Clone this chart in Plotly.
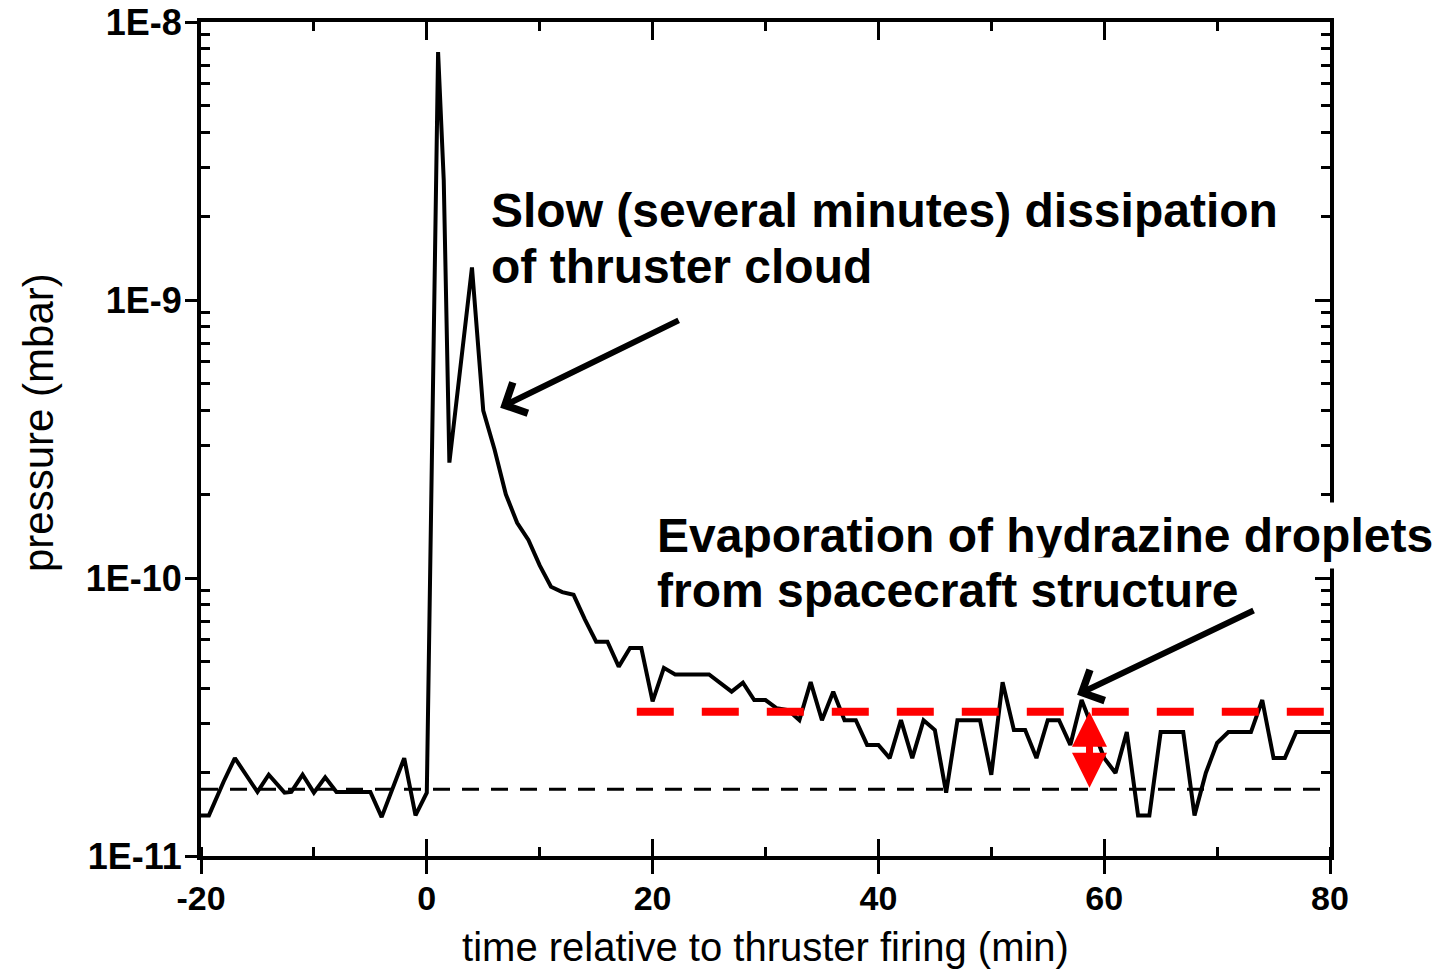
import plotly.graph_objects as go
import numpy as np

# ---- data ----
time_min = [-20, -19.3, -18, -17, -15, -14, -12.6, -12, -11, -10, -9, -8, -5, -4, -2, -1, 0,
            0.4, 1, 1.5, 2, 4, 5, 6, 7, 8, 9, 10, 11, 12, 13, 14, 15, 16, 17, 18, 19, 20,
            21, 22, 25, 27, 28, 29, 30, 31, 32, 33, 34, 35, 36, 37, 38, 39, 40, 41, 42, 43,
            44, 45, 46, 47, 49, 50, 51, 52, 53, 54, 55, 56, 57, 58, 59, 60, 61, 62, 63, 64,
            65, 67, 68, 69, 70, 71, 73, 74, 75, 76, 77, 80]
pressure_mbar = [1.40e-11, 1.40e-11, 1.85e-11, 2.25e-11, 1.70e-11, 1.96e-11, 1.69e-11, 1.70e-11,
                 1.96e-11, 1.69e-11, 1.92e-11, 1.70e-11, 1.70e-11, 1.38e-11, 2.25e-11, 1.40e-11,
                 1.69e-11,
                 2.45e-10, 7.8e-9, 2.7e-9, 2.6e-10, 1.31e-9, 4.0e-10, 2.9e-10, 2.0e-10, 1.58e-10,
                 1.37e-10, 1.11e-10, 9.3e-11, 8.9e-11, 8.7e-11, 7.1e-11, 5.9e-11, 5.9e-11, 4.8e-11,
                 5.6e-11, 5.6e-11, 3.6e-11,
                 4.75e-11, 4.5e-11, 4.5e-11, 3.9e-11, 4.2e-11, 3.64e-11, 3.64e-11, 3.4e-11, 3.35e-11,
                 3.08e-11, 4.22e-11, 3.08e-11, 3.9e-11, 3.08e-11, 3.08e-11, 2.51e-11, 2.51e-11,
                 2.25e-11, 3.08e-11, 2.25e-11,
                 3.08e-11, 2.84e-11, 1.69e-11, 3.08e-11, 3.08e-11, 1.96e-11, 4.22e-11, 2.84e-11,
                 2.84e-11, 2.25e-11, 3.08e-11, 3.08e-11, 2.51e-11, 3.64e-11, 2.84e-11, 2.25e-11,
                 1.99e-11, 2.79e-11, 1.40e-11, 1.40e-11,
                 2.79e-11, 2.79e-11, 1.40e-11, 1.99e-11, 2.55e-11, 2.79e-11, 2.79e-11, 3.64e-11,
                 2.25e-11, 2.25e-11, 2.79e-11, 2.79e-11]

baseline_x = [-20, 80]
baseline_level = 1.74e-11
evap_x = [18.6, 80]
evap_level = 3.30e-11
delta_time = 58.7

x_ticks = [-20, 0, 20, 40, 60, 80]
x_ticklabels = ["-20", "0", "20", "40", "60", "80"]
y_ticks = [1e-11, 1e-10, 1e-9, 1e-8]
y_ticklabels = ["1E-11", "1E-10", "1E-9", "1E-8"]
y_minor = [m * 10.0 ** e for e in (-11, -10, -9) for m in range(2, 10)]

# ---- layout helpers ----
W, H = 1454, 973
L, R, T, B = 201, 124, 22, 117
PW, PH = W - L - R, H - T - B


def px(xp):
    return (xp - L) / PW


def py(yp):
    return (H - B - yp) / PH


FONT = "Liberation Sans, Arial, sans-serif"

fig = go.Figure()

fig.add_trace(go.Scatter(x=baseline_x, y=[baseline_level] * 2, mode="lines",
                         line=dict(color="black", width=3, dash="17px,12px"),
                         showlegend=False, hoverinfo="skip"))
fig.add_trace(go.Scatter(x=time_min, y=pressure_mbar, mode="lines",
                         line=dict(color="black", width=4), showlegend=False))
fig.add_trace(go.Scatter(x=evap_x, y=[evap_level] * 2, mode="lines",
                         line=dict(color="#ff0000", width=8, dash="37px,28px"),
                         showlegend=False, hoverinfo="skip"))
# dummy traces to instantiate overlay axes
for xa, ya in (("x2", "y"), ("x3", "y"), ("x", "y2")):
    fig.add_trace(go.Scatter(x=[None], y=[None], xaxis=xa, yaxis=ya, showlegend=False,
                             hoverinfo="skip"))

xtickfont = dict(family=FONT, size=34, color="black", weight="bold")
ytickfont = dict(family=FONT, size=36, color="black", weight="bold")
common_x = dict(range=[-20, 80], showgrid=False, zeroline=False, linecolor="black",
                automargin=False)
common_y = dict(type="log", range=[-11, -8], showgrid=False, zeroline=False, linecolor="black",
                automargin=False)

fig.update_layout(
    width=W, height=H,
    margin=dict(l=L, r=R, t=T, b=B, autoexpand=False),
    paper_bgcolor="white", plot_bgcolor="white",
    xaxis=dict(**common_x, tickmode="array", tickvals=x_ticks, ticktext=x_ticklabels,
               ticks="outside", ticklen=14, ticklabelstandoff=-5,
               tickwidth=3, tickcolor="black", showline=True, linewidth=4,
               tickfont=xtickfont,
               minor=dict(ticks="inside", ticklen=9, tickwidth=3, tickcolor="black",
                          dtick=10, tick0=0, showgrid=False),
               title=dict(text="time relative to thruster firing (min)",
                          font=dict(family=FONT, size=40, color="black"), standoff=18)),
    xaxis2=dict(**common_x, overlaying="x", side="top", anchor="y", tickmode="array",
                tickvals=x_ticks, ticks="inside", ticklen=18, tickwidth=3, tickcolor="black",
                showline=True, linewidth=4, showticklabels=False,
                minor=dict(ticks="inside", ticklen=9, tickwidth=3, tickcolor="black",
                           dtick=10, tick0=0, showgrid=False)),
    xaxis3=dict(**common_x, overlaying="x", side="bottom", anchor="y", tickmode="array",
                tickvals=x_ticks, ticks="inside", ticklen=17, tickwidth=3, tickcolor="black",
                showline=False, showticklabels=False),
    yaxis=dict(**common_y, tickmode="array", tickvals=y_ticks, ticktext=y_ticklabels,
               ticks="outside", ticklen=12, ticklabelstandoff=-4, tickwidth=3,
               tickcolor="black", showline=True,
               linewidth=4, tickfont=ytickfont,
               minor=dict(ticks="inside", ticklen=9, tickwidth=3, tickcolor="black",
                          tickmode="array", tickvals=y_minor, showgrid=False)),
    yaxis2=dict(**common_y, overlaying="y", side="right", anchor="x", tickmode="array",
                tickvals=y_ticks, ticks="inside", ticklen=15, tickwidth=3, tickcolor="black",
                showline=True, linewidth=4, showticklabels=False,
                minor=dict(ticks="inside", ticklen=9, tickwidth=3, tickcolor="black",
                           tickmode="array", tickvals=y_minor, showgrid=False)),
)

# y axis title placed as rotated text
fig.add_annotation(text="pressure (mbar)", xref="paper", yref="paper", x=px(38), y=py(423),
                   xanchor="center", yanchor="middle", textangle=-90, showarrow=False,
                   font=dict(family=FONT, size=42, color="black"))

afont = dict(family=FONT, size=48, color="black", weight="bold")
text_lines = [
    ("Slow (several minutes) dissipation", 484, 210, None),
    ("of thruster cloud", 484, 266, None),
    ("Evaporation of hydrazine droplets", 650, 535, "white"),
    ("from spacecraft structure", 650, 590, "white"),
]
for txt, xp, yp, bg in text_lines:
    fig.add_annotation(text=txt, xref="paper", yref="paper", x=px(xp), y=py(yp),
                       xanchor="left", yanchor="middle", showarrow=False, font=afont,
                       bgcolor=bg if bg else "rgba(0,0,0,0)", borderpad=6)

# black pointer arrows
fig.add_annotation(x=6.5, y=np.log10(4.1e-10), xref="x", yref="y", ax=180, ay=-88,
                   text="", showarrow=True, arrowhead=4, arrowsize=1.1, arrowwidth=6,
                   arrowcolor="black")
fig.add_annotation(x=57.6, y=np.log10(3.8e-11), xref="x", yref="y", ax=178, ay=-85,
                   text="", showarrow=True, arrowhead=4, arrowsize=1.1, arrowwidth=6,
                   arrowcolor="black")
# red double arrow
fig.add_annotation(x=delta_time, y=np.log10(evap_level), xref="x", yref="y",
                   ax=delta_time, ay=np.log10(baseline_level), axref="x", ayref="y",
                   text="", showarrow=True, arrowside="end+start", arrowhead=2,
                   startarrowhead=2, arrowsize=1, startarrowsize=1, arrowwidth=7,
                   arrowcolor="#ff0000")

fig.write_html("out.html")
